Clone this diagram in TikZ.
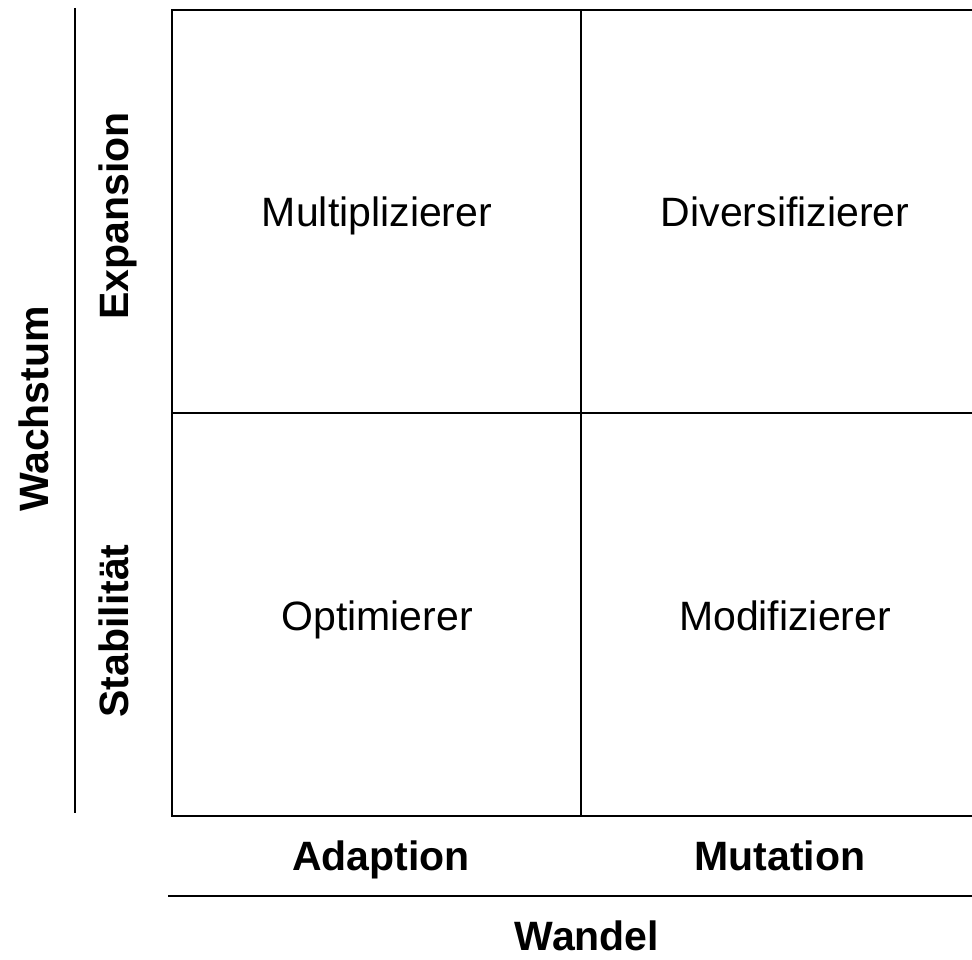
\documentclass[tikz,border=0pt]{standalone}
\usepackage{fontspec}
\setmainfont{Liberation Sans}
\begin{document}
\begin{tikzpicture}[x=1pt,y=-1pt,
  gridline/.style={line width=2pt,black},
  quad/.style={font=\fontsize{41}{48}\selectfont,inner sep=0pt,anchor=base},
  axislbl/.style={font=\fontsize{41}{48}\selectfont\bfseries,inner sep=0pt,anchor=base}]
\useasboundingbox (0,0) rectangle (972,960);
\coordinate (tl) at (172,10);
\coordinate (br) at (990,816);
\draw[gridline] (tl) rectangle (br);
\draw[gridline] (581,10) -- (581,816);
\draw[gridline] (172,413) -- (990,413);
\coordinate (la) at (75,8);
\coordinate (lb) at (75,813);
\draw[gridline] (la) -- (lb);
\coordinate (ba) at (168,896);
\coordinate (bb) at (990,896);
\draw[gridline] (ba) -- (bb);
\node[quad] (mul) at (377,227) {Multiplizierer};
\node[quad] (div) at (785,227) {Diversifizierer};
\node[quad] (opt) at (377,630) {Optimierer};
\node[quad] (mod) at (785,630) {Modifizierer};
\node[axislbl] (ada) at (381,870) {Adaption};
\node[axislbl] (mut) at (780,870) {Mutation};
\node[axislbl] (wan) at (587,950) {Wandel};
\node[axislbl,rotate=90] (wac) at (48,409) {Wachstum};
\node[axislbl,rotate=90] (exp) at (128,216) {Expansion};
\node[axislbl,rotate=90] (sta) at (128,631) {Stabilität};
\end{tikzpicture}
\end{document}
